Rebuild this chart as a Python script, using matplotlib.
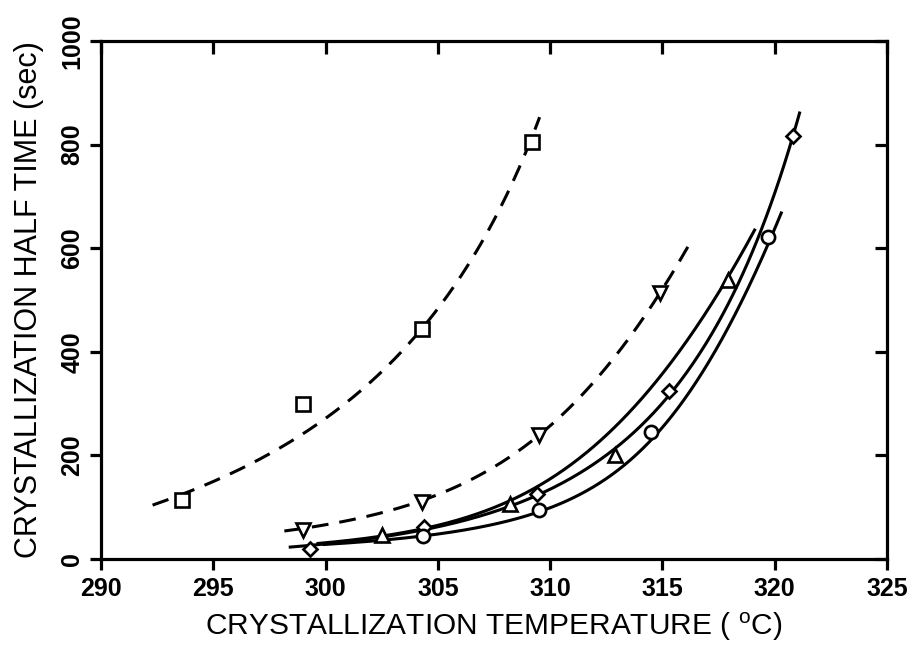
import numpy as np
import matplotlib
matplotlib.use("Agg")
import matplotlib.pyplot as plt

plt.rcParams['font.family'] = ['Liberation Sans', 'DejaVu Sans']

# marker data (temperature in C, half time in sec)
sq_x = [293.6, 299.0, 304.3, 309.2]
sq_y = [114, 299, 444, 805]
dtri_x = [299.0, 304.3, 309.5, 314.9]
dtri_y = [56, 110, 239, 513]
utri_x = [302.5, 308.2, 312.9, 317.9]
utri_y = [46, 106, 201, 539]
dia_x = [299.3, 304.4, 309.4, 315.3, 320.8]
dia_y = [19, 62, 125, 324, 816]
circ_x = [304.35, 309.5, 314.5, 319.7]
circ_y = [44, 95, 245, 622]

# points
sq_cx = [292.3, 295.2, 298.9, 302.4, 304.3, 305.7, 307.0, 308.6, 309.6]
sq_cy = [104, 154, 236, 365, 444, 525, 602, 770, 853]
dtri_cx = [298.0, 300.55, 302.3, 305.0, 307.45, 310.6, 313.1, 314.5, 316.1]
dtri_cy = [54, 69, 85, 127, 180, 282, 394, 481, 610]
utri_cx = [299.7, 302.5, 304.3, 307.3, 310.4, 313.9, 316.7, 318.2, 319.0]
utri_cy = [30, 46, 56, 93, 178, 289, 461, 558, 635]
dia_cx = [298.4, 299.7, 304.4, 309.3, 314.0, 315.3, 318.8, 319.5, 320.7, 321.0]
dia_cy = [23, 28, 55, 124, 255, 323, 558, 622, 815, 861]
circ_cx = [299.7, 304.3, 309.5, 314.0, 315.8, 318.45, 319.4, 320.0]
circ_cy = [28, 42, 95, 216, 290, 475, 558, 668]

xticks = [290, 295, 300, 305, 310, 315, 320, 325]
yticks = [0, 200, 400, 600, 800, 1000]


def smooth(cx, cy, deg=3):
    # fit temperature as a smooth function of log(time) through the read points
    p = np.polyfit(np.log(cy), cx, deg)
    ys = np.geomspace(cy[0], cy[-1], 300)
    return np.polyval(p, np.log(ys)), ys


def main():
    fig = plt.figure(figsize=(9.13, 6.46), dpi=100)
    ax = fig.add_axes([0.1106, 0.1347, 0.8609, 0.8018])

    lw = 2.2
    dash = (0, (5.5, 3.6))
    series = [
        (sq_x, sq_y, sq_cx, sq_cy, 's', dash, 9.5),
        (dtri_x, dtri_y, dtri_cx, dtri_cy, 'v', dash, 10),
        (utri_x, utri_y, utri_cx, utri_cy, '^', '-', 10),
        (dia_x, dia_y, dia_cx, dia_cy, 'D', '-', 7.5),
        (circ_x, circ_y, circ_cx, circ_cy, 'o', '-', 9.5),
    ]
    for x, y, cx, cy, m, ls, ms in series:
        xs, ys = smooth(cx, cy)
        ax.plot(xs, ys, color='black', lw=lw, linestyle=ls, zorder=2)
        ax.plot(x, y, linestyle='none', marker=m, markersize=ms,
                markerfacecolor='white', markeredgecolor='black',
                markeredgewidth=1.9, zorder=3)

    ax.set_xlim(290, 325)
    ax.set_ylim(0, 1000)
    ax.set_xticks(xticks)
    ax.set_yticks(yticks)
    for s in ax.spines.values():
        s.set_linewidth(2.3)

    ax.tick_params(direction='out', length=8, width=2.3, labelsize=18)
    ax.tick_params(axis='x', pad=5)
    ax.tick_params(axis='y', pad=4)
    for lab in ax.get_xticklabels() + ax.get_yticklabels():
        lab.set_fontweight('bold')
    for lab in ax.get_yticklabels():
        lab.set_rotation(90)
        lab.set_va('center')

    top = ax.secondary_xaxis('top')
    top.set_xticks(xticks)
    top.tick_params(direction='in', length=9, width=2.3, labeltop=False)
    right = ax.secondary_yaxis('right')
    right.set_yticks(yticks)
    right.tick_params(direction='in', length=9, width=2.3, labelright=False)

    ax.set_xlabel('CRYSTALLIZATION TEMPERATURE ( $\\mathregular{^{o}}$C)',
                  fontsize=21.5, labelpad=7)
    ax.set_ylabel('CRYSTALLIZATION HALF TIME (sec)', fontsize=22, labelpad=12)

    fig.savefig('out.png', dpi=100)


main()
